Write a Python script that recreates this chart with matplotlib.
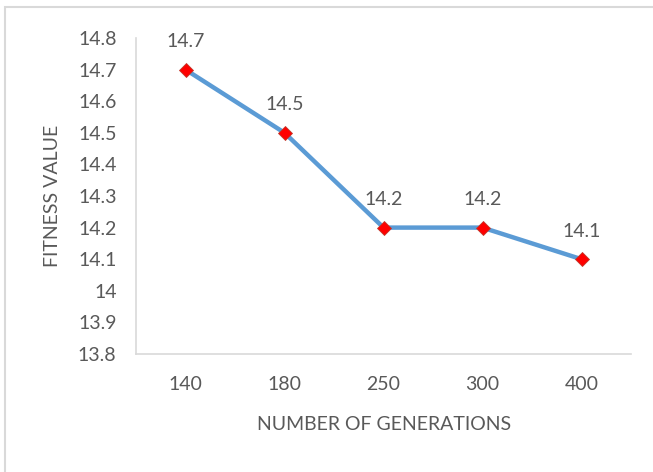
"""Fitness value vs number of generations (Excel-style line chart)."""
import matplotlib
matplotlib.use("Agg")
import matplotlib.pyplot as plt
from matplotlib.patches import Rectangle

GENERATIONS = ["140", "180", "250", "300", "400"]
FITNESS = [14.7, 14.5, 14.2, 14.2, 14.1]
YTICKS = [13.8, 13.9, 14.0, 14.1, 14.2, 14.3, 14.4, 14.5, 14.6, 14.7, 14.8]
YTICKLABELS = ["13.8", "13.9", "14", "14.1", "14.2", "14.3", "14.4", "14.5", "14.6", "14.7", "14.8"]

GREY = "#595959"
FS = 14
plt.rcParams["font.family"] = ["Lato", "DejaVu Sans"]

W, H = 653, 472
fig = plt.figure(figsize=(W / 100, H / 100), dpi=100)
fig.patches.append(Rectangle((5 / W, -0.1), 1.2, 1 - 7 / H + 0.1, transform=fig.transFigure,
                             fill=False, edgecolor="#d9d9d9", linewidth=1.5))

ax = fig.add_axes([136 / W, 1 - 354 / H, (631 - 136) / W, (354 - 38) / H])
x = range(len(GENERATIONS))
ax.plot(x, FITNESS, color="#5b9bd5", linewidth=3.2, solid_capstyle="round",
        marker="D", markersize=7, markerfacecolor="#ff0000", markeredgecolor="#c0392b",
        markeredgewidth=0.6, zorder=3)
for xi, v in zip(x, FITNESS):
    ax.annotate(f"{v:g}", (xi, v), xytext=(0, 14), textcoords="offset points",
                ha="center", va="bottom", fontsize=FS, color=GREY)

ax.set_xlim(-0.5, len(GENERATIONS) - 0.5)
ax.set_ylim(13.8, 14.8)
ax.set_xticks(list(x))
ax.set_xticklabels(GENERATIONS)
ax.set_yticks(YTICKS)
ax.set_yticklabels(YTICKLABELS)
ax.tick_params(length=0, labelsize=FS, labelcolor=GREY)
ax.tick_params(axis="x", pad=16)
ax.tick_params(axis="y", pad=14)
for s in ["top", "right"]:
    ax.spines[s].set_visible(False)
for s in ["left", "bottom"]:
    ax.spines[s].set_color("#d9d9d9")
    ax.spines[s].set_linewidth(1.2)

fig.text(384 / W, 1 - 425 / H, "NUMBER OF GENERATIONS", fontsize=FS, color=GREY,
         ha="center", va="center")
fig.text(52 / W, 1 - 196 / H, "FITNESS VALUE", fontsize=FS, color=GREY,
         ha="center", va="center", rotation=90, rotation_mode="anchor")

fig.savefig("out.png", dpi=100)
